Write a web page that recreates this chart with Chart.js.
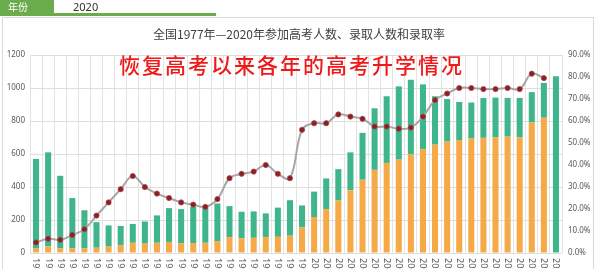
<!DOCTYPE html>
<html><head><meta charset="utf-8">
<script src="https://cdn.jsdelivr.net/npm/chart.js@4/dist/chart.umd.min.js"></script>
<style>
html,body{margin:0;padding:0;background:#fff;width:600px;height:269px;overflow:hidden;font-family:"Noto Sans CJK SC","Noto Sans",sans-serif;}
#wrap{position:relative;width:600px;height:269px;}
#frame{position:absolute;left:2px;top:17px;width:592px;height:262px;border:1px solid #d9d9d9;box-sizing:border-box;}
#hdrbox{position:absolute;left:0;top:0;width:54px;height:14px;background:#6aab4c;color:#fff;font-size:10px;line-height:14px;padding-left:8px;box-sizing:border-box;z-index:3;}
#hdrval{position:absolute;left:73px;top:0;font-size:11px;line-height:14px;color:#333;z-index:3;font-family:"Noto Sans",sans-serif;}
#hdrline{position:absolute;left:0;top:13px;width:216px;height:3px;background:#6aab4c;z-index:3;}
#title{position:absolute;left:0;width:598px;top:26px;text-align:center;font-size:12px;line-height:16px;color:#404040;z-index:3;}
#sub{position:absolute;left:119px;top:51px;font-size:21px;line-height:26px;letter-spacing:2px;color:#f01818;z-index:3;white-space:nowrap;font-weight:500;}
canvas{position:absolute;left:0;top:0;}
</style>
</head><body>
<div id="wrap">
<div id="frame"></div>
<canvas id="c" width="600" height="269"></canvas>
<div id="hdrbox">年份</div>
<div id="hdrval">2020</div>
<div id="hdrline"></div>
<div id="title">全国1977年—2020年参加高考人数、录取人数和录取率</div>
<div id="sub">恢复高考以来各年的高考升学情况</div>
</div>
<script>
const years = ['1977','1978','1979','1980','1981','1982','1983','1984','1985','1986','1987','1988','1989','1990','1991','1992','1993','1994','1995','1996','1997','1998','1999','2000','2001','2002','2003','2004','2005','2006','2007','2008','2009','2010','2011','2012','2013','2014','2015','2016','2017','2018','2019','2020'];
// 参加高考人数（万人）
const participants = [570,610,468,333,259,187,167,164,176,191,228,272,266,280,285,300,284,250,252,240,275,320,288,372,452,508,610,728,877,950,1010,1050,1022,950,933,915,912,939,942,940,940,975,1031,1071];
// 录取人数（万人）
const admitted = [27,40,28,28,28,32,39,48,62,57,62,67,58,60,62,72,96,89,92,96,98,105,155,218,266,318,380,444,504,546,566,599,629,657,675,685,694,698,700,705,700,791,820,null];
// 录取率（%）
const rate = [4.8,6.5,6.0,8.2,10.8,17,23,29,35,30,27,25,23,22,21,24.5,34,36,37,40,36,34,56,59,59,63,62,61,57.5,57.5,56.5,57,62,69.5,72.5,75,75,74.5,74.5,75,74.5,81.5,79.5,null];
// 未录取人数 = 参加 - 录取
const notAdmitted = participants.map((p,i)=> admitted[i]==null ? p : p - admitted[i]);
const leftTicks = [0,200,400,600,800,1000,1200];

const xLabelPlugin = {
  id:'xlabels',
  afterDraw(chart){
    const ctx = chart.ctx, xs = chart.scales.x, bottom = chart.chartArea.bottom;
    ctx.save();
    ctx.font = '9px "Noto Sans", sans-serif';
    ctx.fillStyle = '#595959';
    ctx.textAlign = 'left';
    ctx.textBaseline = 'middle';
    years.forEach((y,i)=>{
      const px = xs.getPixelForValue(i);
      ctx.save();
      ctx.translate(px, bottom + 5);
      ctx.rotate(Math.PI/2);
      ctx.fillText(y, 0, 0);
      ctx.restore();
    });
    ctx.restore();
  }
};

new Chart(document.getElementById('c'), {
  data: {
    labels: years,
    datasets: [
      {type:'line', label:'录取率', data: rate, yAxisID:'y1', order:0,
       borderColor:'#a6a6a6', borderWidth:2, tension:0.4,
       pointRadius:2.6, pointBackgroundColor:'#8b1f24', pointBorderColor:'#a8484c', pointBorderWidth:0.8,
       spanGaps:false},
      {type:'bar', label:'录取人数', data: admitted, yAxisID:'y', order:1, stack:'s',
       backgroundColor:'#f5a947', barPercentage:0.5, categoryPercentage:1},
      {type:'bar', label:'未录取人数', data: notAdmitted, yAxisID:'y', order:1, stack:'s',
       backgroundColor:'#3fb58b', barPercentage:0.5, categoryPercentage:1}
    ]
  },
  options: {
    responsive:false, animation:false, maintainAspectRatio:false,
    layout:{padding:{top:55,left:0,right:0,bottom:0}},
    plugins:{legend:{display:false}, tooltip:{enabled:false}, title:{display:false}},
    scales:{
      x:{stacked:true, offset:true,
         grid:{display:true, offset:true, color:'#e3e3e3', drawTicks:false},
         border:{display:false},
         ticks:{display:false},
         afterFit(s){ s.height = 16; }},
      y:{stacked:true, position:'left', min:0, max:1200,
         afterBuildTicks(s){ s.ticks = leftTicks.map(v=>({value:v})); },
         grid:{color:'#dedede', drawTicks:false},
         border:{display:false},
         ticks:{font:{size:8, family:'"Noto Sans", sans-serif'}, color:'#595959', padding:5,
                callback:v=>String(v)},
         afterFit(s){ s.width = 30; }},
      y1:{position:'right', min:0, max:90,
         grid:{display:false, drawTicks:false},
         border:{display:false},
         ticks:{stepSize:10, font:{size:8, family:'"Noto Sans", sans-serif'}, color:'#595959', padding:6,
                callback:v=>Number(v).toFixed(1)+'%'},
         afterFit(s){ s.width = 38; }}
    }
  },
  plugins:[xLabelPlugin]
});
</script>
</body></html>
